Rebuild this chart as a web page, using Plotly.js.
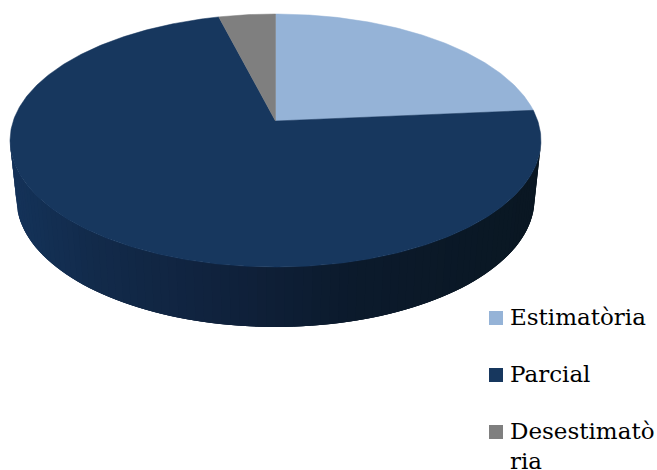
<!DOCTYPE html>
<html>
<head>
<meta charset="utf-8">
<script src="https://cdn.plot.ly/plotly-3.0.1.min.js"></script>
<style>html,body{margin:0;padding:0;background:#fff}#chart{width:657px;height:470px}</style>
</head>
<body>
<div id="chart"></div>
<script>
const categories = ['Estimatòria', 'Parcial', 'Desestimatòria'];
const legendLabels = ['Estimatòria', 'Parcial', 'Desestimatò<br>ria'];
const values = [23.6, 72.4, 4.0];
const colors = ['#95b3d7', '#17375e', '#7f7f7f'];

// Tilted-disc geometry, expressed in the pixel-sized axis space below
const CX = 275.5, TOP = 14, APEX = 121, BOTTOM = 267, KX = 262.3;
const WALL = {rxTop: 265.5, ryTop: 126.5, cyTop: 140.5, rxBot: 259, ryBot: 128, cyBot: 199};
const wallStops = [[10,[20,51,90]],[100,[18,42,74]],[250,[15,32,57]],[350,[11,26,44]],[540,[10,23,34]]];

const persp = (APEX * 2 - TOP - BOTTOM) / (BOTTOM - TOP) * -1;
const pA = TOP * (1 + persp) - APEX;
function project(theta) {
  const u = Math.sin(theta), v = Math.cos(theta), d = 1 + persp * v;
  return [CX + KX * u / d, (pA * v + APEX) / d];
}
function wallColor(x) {
  for (let i = 1; i < wallStops.length; i++) {
    if (x <= wallStops[i][0]) {
      const a = wallStops[i - 1], b = wallStops[i], f = Math.max(0, (x - a[0]) / (b[0] - a[0]));
      const c = a[1].map((p, k) => Math.round(p + (b[1][k] - p) * f));
      return 'rgb(' + c.join(',') + ')';
    }
  }
  return 'rgb(' + wallStops[wallStops.length - 1][1].join(',') + ')';
}

const traces = [];
const base = {type: 'scatter', mode: 'lines', fill: 'toself', hoverinfo: 'skip', showlegend: false};

// Side wall strips: each one reaches well under the next so no seams show
const STRIPS = 90;
for (let i = 0; i < STRIPS; i++) {
  const a = Math.PI * i / STRIPS, b = Math.min(Math.PI, Math.PI * (i + 3) / STRIPS);
  const pt = (t, top) => top
    ? [CX + WALL.rxTop * Math.cos(t), WALL.cyTop + WALL.ryTop * Math.sin(t)]
    : [CX + WALL.rxBot * Math.cos(t), WALL.cyBot + WALL.ryBot * Math.sin(t)];
  const poly = [];
  for (let k = 0; k <= 3; k++) poly.push(pt(a + (b - a) * k / 3, true));
  for (let k = 3; k >= 0; k--) poly.push(pt(a + (b - a) * k / 3, false));
  const col = wallColor(pt(Math.PI * (i + 0.5) / STRIPS, false)[0]);
  traces.push(Object.assign({}, base, {
    x: poly.map(p => p[0]), y: poly.map(p => p[1]),
    fillcolor: col, line: {color: col, width: 0}
  }));
}

// Top-face slices, built from the values
const total = values.reduce((s, v) => s + v, 0);
let start = 0;
values.forEach((v, i) => {
  const end = start + v / total * 2 * Math.PI;
  const xs = [CX], ys = [APEX];
  const n = Math.max(4, Math.ceil((end - start) / 0.01));
  for (let k = 0; k <= n; k++) {
    const p = project(start + (end - start) * k / n);
    xs.push(p[0]); ys.push(p[1]);
  }
  xs.push(CX); ys.push(APEX);
  traces.push(Object.assign({}, base, {
    name: categories[i], x: xs, y: ys,
    fillcolor: colors[i], line: {color: colors[i], width: 0.5}
  }));
  start = end;
});

const legendY = [318, 375, 432];
const shapes = legendY.map((y, i) => ({
  type: 'rect', xref: 'x', yref: 'y', x0: 489, x1: 503, y0: y - 7, y1: y + 7,
  fillcolor: colors[i], line: {width: 0}
}));
const annotations = legendY.map((y, i) => ({
  xref: 'x', yref: 'y', x: 509, y: y - 15, xanchor: 'left', yanchor: 'top', align: 'left',
  text: legendLabels[i], showarrow: false, borderpad: 0,
  font: {family: '"DejaVu Serif", serif', size: 23, color: '#000'}
}));

const layout = {
  width: 657, height: 470,
  margin: {l: 0, r: 0, t: 0, b: 0},
  paper_bgcolor: '#fff', plot_bgcolor: '#fff',
  showlegend: false, hovermode: false,
  xaxis: {range: [0, 657], visible: false, fixedrange: true},
  yaxis: {range: [470, 0], visible: false, fixedrange: true},
  shapes: shapes, annotations: annotations
};
Plotly.newPlot('chart', traces, layout, {displayModeBar: false, staticPlot: true});
</script>
</body>
</html>
